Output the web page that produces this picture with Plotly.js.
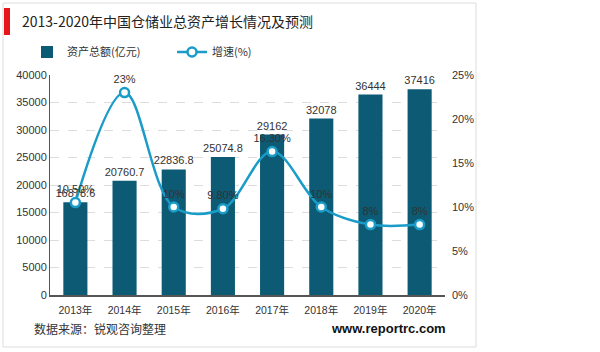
<!DOCTYPE html>
<html>
<head>
<meta charset="utf-8">
<script src="https://cdn.plot.ly/plotly-3.0.1.min.js"></script>
<style>
html,body{margin:0;padding:0;background:#fff;}
#chart{width:600px;height:352px;}
</style>
</head>
<body>
<div id="chart"></div>
<script>
const categories = ['2013年','2014年','2015年','2016年','2017年','2018年','2019年','2020年'];
const assets = [16878.6, 20760.7, 22836.8, 25074.8, 29162, 32078, 36444, 37416];
const assetLabels = ['16878.6','20760.7','22836.8','25074.8','29162','32078','36444','37416'];
const growth = [10.5, 23, 10, 9.8, 16.3, 10, 8, 8];
const growthLabels = ['10.50%','23%','10%','9.80%','16.30%','10%','8%','8%'];

const F = '"Liberation Sans", Arial, "Noto Sans CJK SC", sans-serif';
const FC = '"Noto Sans CJK SC", "Liberation Sans", sans-serif';

const L = 50, R = 445, T = 75, B = 295;
const px = x => (x - L) / (R - L);
const py = y => (B - y) / (B - T);

const traces = [
  {
    type: 'bar', name: '资产总额(亿元)', x: categories, y: assets,
    text: assetLabels, textposition: 'outside', cliponaxis: false, constraintext: 'none',
    textfont: {family: F, size: 11, color: '#333'},
    marker: {color: '#0c5a74'}, width: 0.49, hoverinfo: 'none'
  },
  {
    type: 'scatter', name: '增速(%)', x: categories, y: growth, yaxis: 'y2',
    mode: 'lines+markers+text', text: growthLabels, textposition: 'top center',
    textfont: {family: F, size: 11, color: '#333'}, cliponaxis: false,
    line: {color: '#1a9cc8', width: 2.5, shape: 'spline', smoothing: 1},
    marker: {size: 9, color: '#ffffff', line: {color: '#1a9cc8', width: 2.5}},
    hoverinfo: 'none'
  }
];

const layout = {
  width: 600, height: 352,
  margin: {l: L, r: 600 - R, t: T, b: 352 - B},
  paper_bgcolor: '#fff', plot_bgcolor: '#fff',
  font: {family: F, size: 11, color: '#333'},
  title: {text: '2013-2020年中国仓储业总资产增长情况及预测', x: 22/600, xanchor: 'left', y: 1 - 22/352, yanchor: 'middle',
          font: {family: FC, size: 14, color: '#222'}},
  showlegend: true,
  legend: {orientation: 'h', x: px(27), xanchor: 'left', y: py(52), yanchor: 'middle',
           font: {family: FC, size: 11, color: '#333'}, bgcolor: 'rgba(0,0,0,0)', itemwidth: 30,
           entrywidth: 100, entrywidthmode: 'pixels'},
  xaxis: {
    type: 'category', showline: true, linecolor: '#555', linewidth: 1.5, ticks: '',
    tickfont: {family: F, size: 10.5, color: '#333'}, showgrid: false, zeroline: false,
    ticklabelstandoff: 5
  },
  yaxis: {
    range: [0, 40000], dtick: 5000, showline: true, linecolor: '#555', linewidth: 1,
    showgrid: true, gridcolor: '#dddddd', griddash: 'dash', zeroline: false,
    tickfont: {family: F, size: 11, color: '#333'}, ticks: '', tickformat: 'd'
  },
  yaxis2: {
    range: [0, 25], dtick: 5, overlaying: 'y', side: 'right', showgrid: false, zeroline: false,
    ticksuffix: '%', tickfont: {family: F, size: 11, color: '#333'}, ticks: '', showline: false,
    ticklabelstandoff: 6
  },
  shapes: [
    {type: 'rect', xref: 'paper', yref: 'paper', x0: px(3), x1: px(476), y0: py(347), y1: py(3),
     line: {color: '#dddddd', width: 1}, fillcolor: 'rgba(0,0,0,0)', layer: 'below'},
    {type: 'rect', xref: 'paper', yref: 'paper', x0: px(4), x1: px(10), y0: py(35), y1: py(8),
     line: {width: 0}, fillcolor: '#e8141b'}
  ],
  annotations: [
    {text: '数据来源：锐观咨询整理', xref: 'paper', yref: 'paper', x: px(32), y: py(328), xanchor: 'left', yanchor: 'middle',
     showarrow: false, font: {family: FC, size: 12, color: '#333'}},
    {text: '<b>www.reportrc.com</b>', xref: 'paper', yref: 'paper', x: px(448), y: py(328), xanchor: 'right', yanchor: 'middle',
     showarrow: false, font: {family: F, size: 13, color: '#111'}}
  ]
};

Plotly.newPlot('chart', traces, layout, {displayModeBar: false, staticPlot: true});
</script>
</body>
</html>
